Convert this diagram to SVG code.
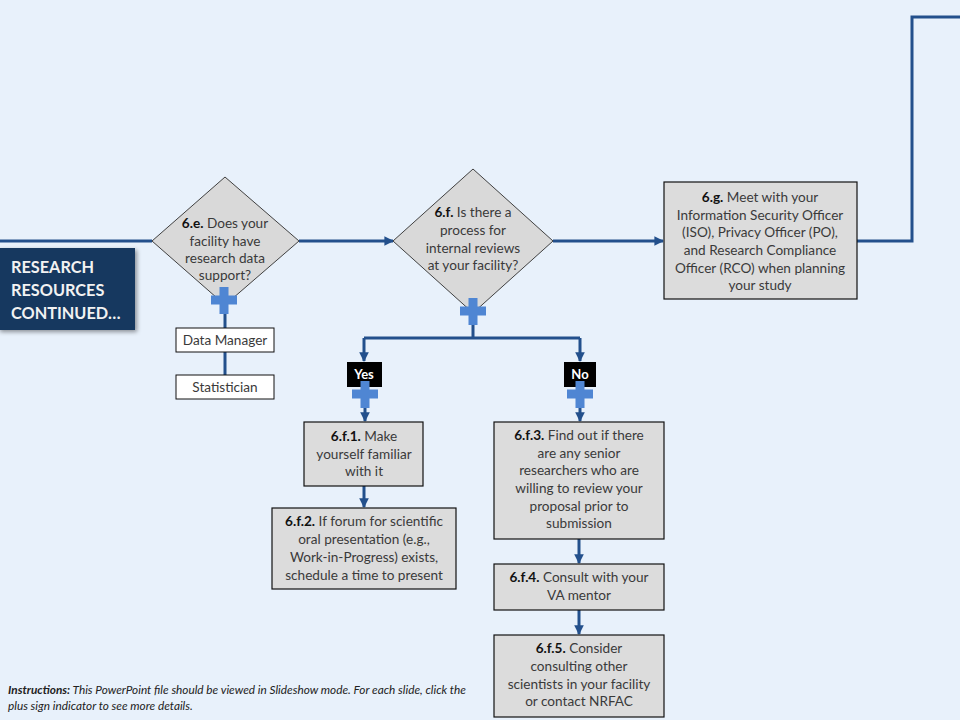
<svg xmlns="http://www.w3.org/2000/svg" width="960" height="720" viewBox="0 0 960 720">
<defs>
<style>
.bg{fill:#E8F1FB}
.dia{fill:#D9D9D9;stroke:#404040;stroke-width:1}
.box{fill:#DCDCDC;stroke:#111;stroke-width:1.2}
.wbox{fill:#FFFFFF;stroke:#111;stroke-width:1}
.t{font-family:Lato,"Open Sans","Liberation Sans",sans-serif;font-size:13.6px;fill:#3a3a3a;text-anchor:middle}
.b{font-weight:bold;fill:#111}
.c{fill:none;stroke:#23508C;stroke-width:3}
.plus{fill:#4F86D3}
.lab{fill:#000}
.labt{font-family:Lato,"Open Sans","Liberation Sans",sans-serif;font-size:13px;font-weight:bold;fill:#fff;text-anchor:middle}
.title{font-family:Lato,"Open Sans","Liberation Sans",sans-serif;font-size:16.3px;font-weight:bold;fill:#F2F2F2}
.ins{font-family:Lato,"Open Sans","Liberation Sans",sans-serif;font-size:11.8px;font-style:italic;fill:#222}
</style>
<marker id="ah" viewBox="0 0 10 10" refX="9" refY="5" markerWidth="3.2" markerHeight="3.2" orient="auto">
<path d="M0,0 L10,5 L0,10 z" fill="#23508C"/>
</marker>
<filter id="sh" x="-10%" y="-10%" width="130%" height="130%">
<feDropShadow dx="2" dy="2" stdDeviation="2" flood-color="#000" flood-opacity="0.4"/>
</filter>
<path id="pl" d="M-4.5,-13 h9 v8.5 h8.5 v9 h-8.5 v9.5 h-9 v-9.5 h-8.5 v-9 h8.5 z"/>
</defs>
<rect class="bg" x="0" y="0" width="960" height="720"/>

<g id="connectors">
<path class="c" d="M0,241 H152"/>
<path class="c" d="M299,241 H393" marker-end="url(#ah)"/>
<path class="c" d="M553,241 H663" marker-end="url(#ah)"/>
<path class="c" d="M857,241 H912 V17 H960"/>
<path class="c" d="M225,305 V328"/>
<path class="c" d="M225,352 V375"/>
<path class="c" d="M473,312 V338 M364,338 H580"/>
<path class="c" d="M364,338 V361" marker-end="url(#ah)"/>
<path class="c" d="M580,338 V361" marker-end="url(#ah)"/>
<path class="c" d="M365,405 V421" marker-end="url(#ah)"/>
<path class="c" d="M580,405 V421" marker-end="url(#ah)"/>
<path class="c" d="M364,486 V507" marker-end="url(#ah)"/>
<path class="c" d="M579,539 V563" marker-end="url(#ah)"/>
<path class="c" d="M579,610 V634" marker-end="url(#ah)"/>
</g>

<g id="title">
<rect x="-2" y="248" width="137" height="82" fill="#17375E" filter="url(#sh)"/>
<text class="title" x="11" y="273">RESEARCH</text>
<text class="title" x="11" y="296">RESOURCES</text>
<text class="title" x="11" y="319">CONTINUED…</text>
</g>

<g id="n6e">
<polygon class="dia" points="225,177 299,241 225,305 152,241"/>
<text class="t" x="225" y="228"><tspan class="b">6.e.</tspan> Does your</text>
<text class="t" x="225" y="246">facility have</text>
<text class="t" x="225" y="263">research data</text>
<text class="t" x="225" y="280">support?</text>
<use href="#pl" class="plus" x="224" y="300"/>
</g>

<g id="dm">
<rect class="wbox" x="176" y="328" width="98" height="24"/>
<text class="t" x="225" y="345">Data Manager</text>
</g>
<g id="stat">
<rect class="wbox" x="176" y="375" width="98" height="24"/>
<text class="t" x="225" y="392">Statistician</text>
</g>

<g id="n6f">
<polygon class="dia" points="473,169 553,241 473,313 393,241"/>
<text class="t" x="473" y="217"><tspan class="b">6.f.</tspan> Is there a</text>
<text class="t" x="473" y="235">process for</text>
<text class="t" x="473" y="253">internal reviews</text>
<text class="t" x="473" y="270">at your facility?</text>
<use href="#pl" class="plus" x="473" y="311"/>
</g>

<g id="n6g">
<rect class="box" x="664" y="182" width="193" height="117"/>
<text class="t" x="760" y="202"><tspan class="b">6.g.</tspan> Meet with your</text>
<text class="t" x="760" y="220">Information Security Officer</text>
<text class="t" x="760" y="237">(ISO), Privacy Officer (PO),</text>
<text class="t" x="760" y="255">and Research Compliance</text>
<text class="t" x="760" y="273">Officer (RCO) when planning</text>
<text class="t" x="760" y="290">your study</text>
</g>

<g id="yes">
<rect class="lab" x="347" y="362" width="35" height="25"/>
<text class="labt" x="364" y="379">Yes</text>
<use href="#pl" class="plus" x="365" y="394"/>
</g>
<g id="no">
<rect class="lab" x="564" y="362" width="32" height="25"/>
<text class="labt" x="580" y="379">No</text>
<use href="#pl" class="plus" x="580" y="394"/>
</g>

<g id="n6f1">
<rect class="box" x="304" y="422" width="119" height="64"/>
<text class="t" x="364" y="441"><tspan class="b">6.f.1.</tspan> Make</text>
<text class="t" x="364" y="459">yourself familiar</text>
<text class="t" x="364" y="476">with it</text>
</g>
<g id="n6f2">
<rect class="box" x="272" y="508" width="184" height="81"/>
<text class="t" x="364" y="526"><tspan class="b">6.f.2.</tspan> If forum for scientific</text>
<text class="t" x="364" y="544">oral presentation (e.g.,</text>
<text class="t" x="364" y="562">Work-in-Progress) exists,</text>
<text class="t" x="364" y="580">schedule a time to present</text>
</g>
<g id="n6f3">
<rect class="box" x="494" y="422" width="170" height="117"/>
<text class="t" x="579" y="440"><tspan class="b">6.f.3.</tspan> Find out if there</text>
<text class="t" x="579" y="458">are any senior</text>
<text class="t" x="579" y="475">researchers who are</text>
<text class="t" x="579" y="493">willing to review your</text>
<text class="t" x="579" y="511">proposal prior to</text>
<text class="t" x="579" y="528">submission</text>
</g>
<g id="n6f4">
<rect class="box" x="494" y="564" width="170" height="46"/>
<text class="t" x="579" y="582"><tspan class="b">6.f.4.</tspan> Consult with your</text>
<text class="t" x="579" y="600">VA mentor</text>
</g>
<g id="n6f5">
<rect class="box" x="494" y="635" width="170" height="82"/>
<text class="t" x="579" y="653"><tspan class="b">6.f.5.</tspan> Consider</text>
<text class="t" x="579" y="671">consulting other</text>
<text class="t" x="579" y="689">scientists in your facility</text>
<text class="t" x="579" y="706">or contact NRFAC</text>
</g>

<g id="instructions">
<text class="ins" x="8" y="694"><tspan font-weight="bold">Instructions:</tspan> This PowerPoint file should be viewed in Slideshow mode. For each slide, click the</text>
<text class="ins" x="8" y="710">plus sign indicator to see more details.</text>
</g>
</svg>
